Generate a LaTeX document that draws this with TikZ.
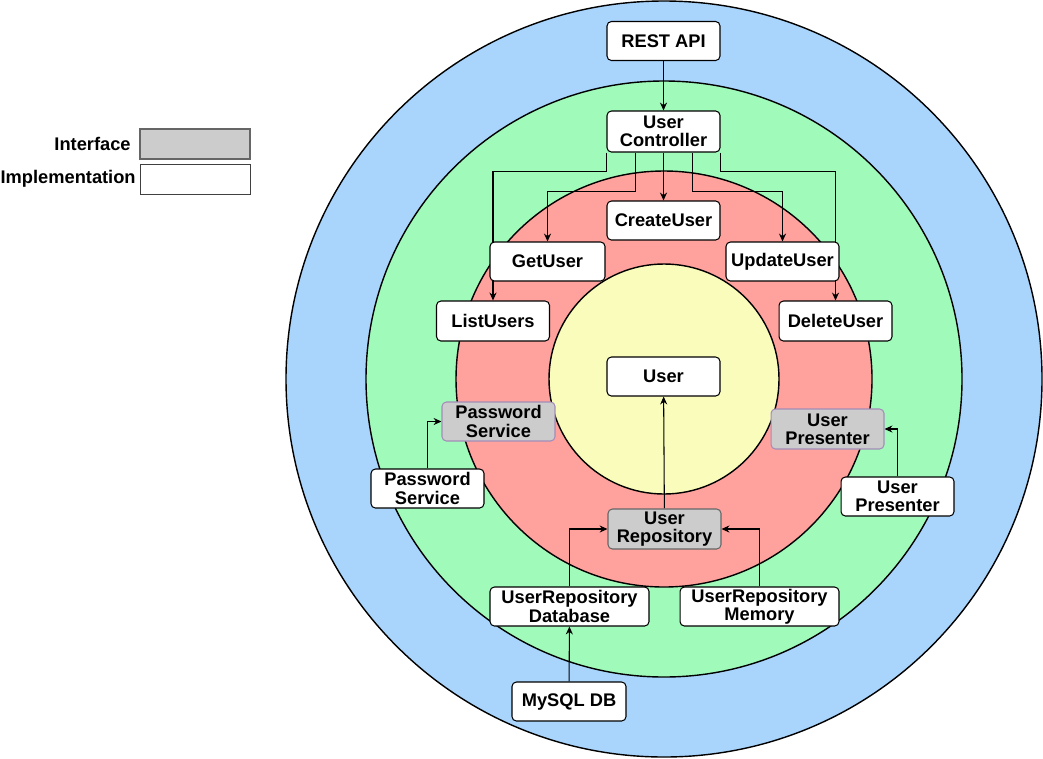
\documentclass[tikz,border=0pt]{standalone}
\usepackage{fontspec}
\setmainfont{Liberation Sans}
\usetikzlibrary{arrows.meta}
\definecolor{ringBlue}{HTML}{A9D5FC}
\definecolor{ringGreen}{HTML}{A0FBBA}
\definecolor{ringRed}{HTML}{FFA19D}
\definecolor{ringYellow}{HTML}{FAFCBC}
\definecolor{ifaceGray}{HTML}{CCCCCC}
\definecolor{ifaceLine}{HTML}{A38DB8}
\pgfdeclarelayer{rings}
\pgfdeclarelayer{wires}
\pgfsetlayers{rings,wires,main}
\tikzset{
    box/.style={draw,fill=white,rounded corners=2.5pt,line width=0.6pt,
        minimum width=2.26cm,minimum height=0.78cm,inner sep=1pt,align=center,
        font=\fontsize{10.4}{10.4}\selectfont\bfseries},
    widebox/.style={box,minimum width=3.18cm},
    iface/.style={box,fill=ifaceGray,draw=ifaceLine},
    wire/.style={line width=0.6pt,-{Stealth[length=4.5pt,width=4pt]}},
    legend/.style={anchor=east,inner sep=0pt,font=\fontsize{10.4}{10.4}\selectfont\bfseries}
}
\begin{document}
\begin{tikzpicture}[x=0.02cm,y=-0.02cm]
        \useasboundingbox (0,0) rectangle (1043,758);
        \begin{pgfonlayer}{rings}
            \foreach \r/\c in {378/ringBlue,298/ringGreen,208/ringRed,115/ringYellow}{
                \filldraw[fill=\c,line width=0.8pt] (664,379) circle[radius=\r*0.02cm];
            }
        \end{pgfonlayer}

        % legend
        \node[legend] (lblIface) at (131,144) {Interface};
        \node[legend] (lblImpl) at (136,179) {Implementation};
        \node[box,fill=ifaceGray,draw=black!60,minimum width=2.2cm,minimum height=0.6cm,rounded corners=0pt] (keyIface) at (195,144) {};
        \node[box,draw=black!75,line width=0.5pt,minimum width=2.2cm,minimum height=0.6cm,rounded corners=0pt] (keyImpl) at (195,179) {};

        % boxes
        \node[box] (restApi) at (663.5,41) {REST API};
        \node[box,minimum height=0.82cm] (userCtrl) at (663.5,131.5) {User\\Controller};
        \node[box] (createUser) at (663.5,220.5) {CreateUser};
        \node[box,minimum width=2.3cm] (getUser) at (547.5,261.5) {GetUser};
        \node[box] (updateUser) at (782.5,261.5) {UpdateUser};
        \node[box,minimum height=0.8cm] (listUsers) at (493,321) {ListUsers};
        \node[box,minimum height=0.8cm] (deleteUser) at (835.5,321) {DeleteUser};
        \node[box] (userEntity) at (663.5,376.5) {User};
        \node[iface] (pwdIface) at (498.5,421.5) {Password\\Service};
        \node[iface,minimum height=0.8cm] (presIface) at (827.5,429) {User\\Presenter};
        \node[box] (pwdImpl) at (427.5,488.5) {Password\\Service};
        \node[box] (presImpl) at (897.5,496.5) {User\\Presenter};
        \node[iface,draw=black!60,minimum height=0.8cm] (repoIface) at (664.5,529) {User\\Repository};
        \node[widebox] (repoDb) at (569.5,606.5) {UserRepository\\Database};
        \node[widebox] (repoMem) at (759.5,606.5) {UserRepository\\Memory};
        \node[box,minimum width=2.28cm] (mysqlDb) at (569,701.5) {MySQL DB};

        % connectors
        \begin{pgfonlayer}{wires}
            \draw[wire] (restApi) -- (userCtrl);
            \draw[wire] (userCtrl.south west) -- ++(0,19) -| (listUsers.north);
            \draw[wire] ([xshift=-0.56cm]userCtrl.south) -- ++(0,39) -| (getUser.north);
            \draw[wire] (userCtrl) -- (createUser);
            \draw[wire] ([xshift=0.58cm]userCtrl.south) -- ++(0,39) -| (updateUser.north);
            \draw[wire] (userCtrl.south east) -- ++(0,19) -| (deleteUser.north);
            \draw[wire] (repoIface) -- (userEntity);
            \draw[wire] (repoDb.north) |- (repoIface.west);
            \draw[wire] (repoMem.north) |- (repoIface.east);
            \draw[wire] (mysqlDb) -- (repoDb);
            \draw[wire] (pwdImpl.north) |- (pwdIface.west);
            \draw[wire] (presImpl.north) |- (presIface.east);
        \end{pgfonlayer}
    \end{tikzpicture}
\end{document}
